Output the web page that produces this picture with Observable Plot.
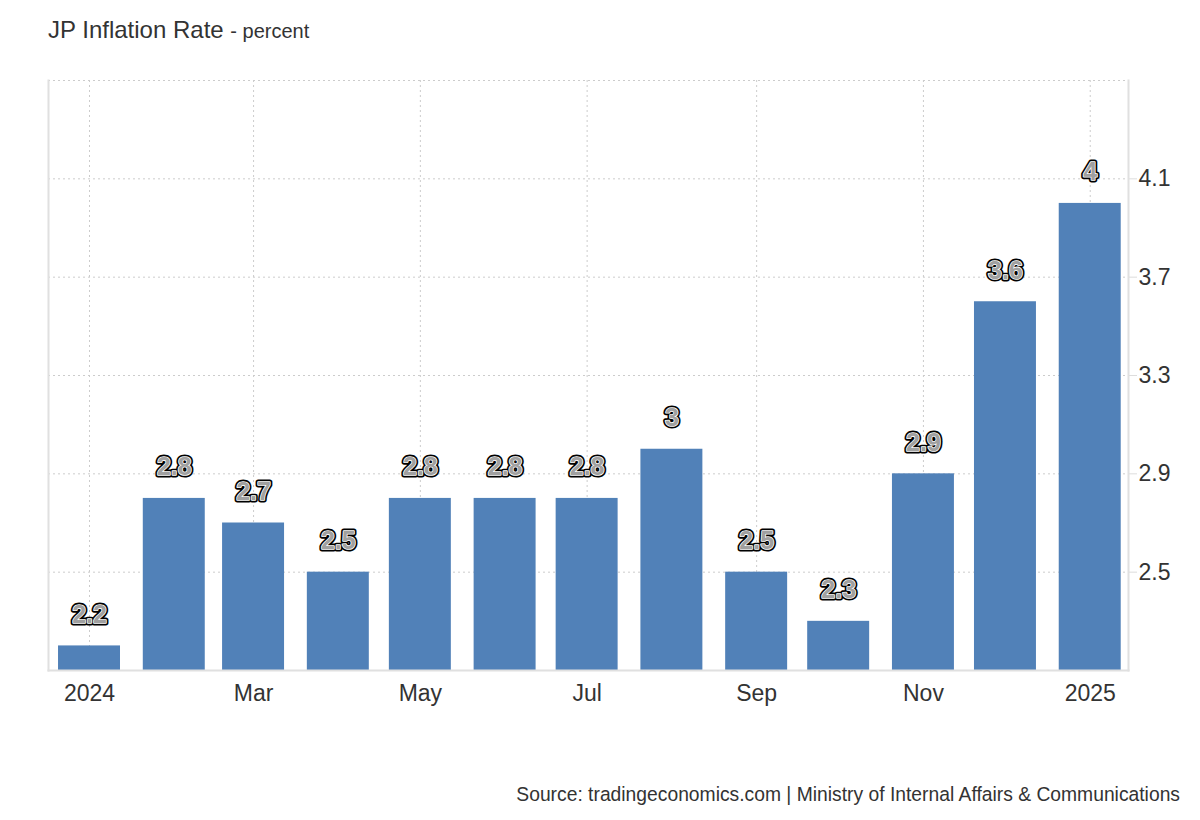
<!DOCTYPE html>
<html>
<head>
<meta charset="utf-8">
<script src="https://cdn.jsdelivr.net/npm/d3@7"></script>
<script src="https://cdn.jsdelivr.net/npm/@observablehq/plot@0.6"></script>
<style>
  html, body { margin: 0; padding: 0; background: #fff; }
  body { width: 1200px; height: 820px; position: relative; overflow: hidden; font-family: "Liberation Sans", Arial, sans-serif; }
  #title { position: absolute; left: 48px; top: 16px; color: #333; font-size: 24px; white-space: nowrap; z-index: 2; }
  #title span { font-size: 20px; }
  #chart { position: absolute; left: 0; top: 0; z-index: 1; }
  #source { position: absolute; right: 20px; top: 784px; color: #333; font-size: 19.3px; white-space: nowrap; z-index: 2; }
</style>
</head>
<body>
<div id="title">JP Inflation Rate <span>- percent</span></div>
<div id="chart"></div>
<div id="source">Source: tradingeconomics.com | Ministry of Internal Affairs &amp; Communications</div>
<script>
const months = ["2024-01","2024-02","2024-03","2024-04","2024-05","2024-06","2024-07","2024-08","2024-09","2024-10","2024-11","2024-12","2025-01"];
const values = [2.2, 2.8, 2.7, 2.5, 2.8, 2.8, 2.8, 3.0, 2.5, 2.3, 2.9, 3.6, 4.0];
const xTicks = ["2024-01","2024-03","2024-05","2024-07","2024-09","2024-11","2025-01"];
const yTicks = [2.5, 2.9, 3.3, 3.7, 4.1];
const yGrid = [2.5, 2.9, 3.3, 3.7, 4.1, 4.5];
const yDomain = [2.1, 4.5];
const xDomain = ["2023-12-17", "2025-01-15"];

const parse = d3.utcParse("%Y-%m");
const data = months.map((m, i) => ({date: parse(m), value: values[i]}));
const xTickDates = xTicks.map(parse);
const halfHours = 272;

const fmt = d => d.getUTCMonth() === 0 ? d3.utcFormat("%Y")(d) : d3.utcFormat("%b")(d);

const plot = Plot.plot({
  width: 1200,
  height: 720,
  marginLeft: 48,
  marginRight: 72,
  marginTop: 80,
  marginBottom: 50,
  style: {fontFamily: "'Liberation Sans', Arial, sans-serif", fontSize: "23px", color: "#333", background: "transparent"},
  x: {type: "utc", domain: xDomain.map(d3.utcParse("%Y-%m-%d")), label: null},
  y: {domain: yDomain, label: null},
  marks: [
    Plot.gridX(xTickDates, {x: d => d, stroke: "#ccc", strokeOpacity: 1, strokeDasharray: "2,3"}),
    Plot.gridY(yGrid, {y: d => d, stroke: "#ccc", strokeOpacity: 1, strokeDasharray: "2,3"}),
    Plot.rect(data, {
      x1: d => d3.utcHour.offset(d.date, -halfHours),
      x2: d => d3.utcHour.offset(d.date, halfHours),
      y1: () => yDomain[0],
      y2: "value",
      fill: "#5181b8"
    }),
    Plot.frame({anchor: "left", stroke: "#e0e0e0", strokeWidth: 2}),
    Plot.frame({anchor: "right", stroke: "#e0e0e0", strokeWidth: 2}),
    Plot.frame({anchor: "bottom", stroke: "#e0e0e0", strokeWidth: 2}),
    Plot.axisX(xTickDates, {tickFormat: fmt, tickSize: 0, tickPadding: 14, fontSize: 23, fill: "#333", label: null}),
    Plot.axisY(yTicks, {anchor: "right", tickSize: 8, tickPadding: 2, stroke: "#ddd", fontSize: 23, fill: "#333", tickFormat: d3.format(".1f"), label: null}),
    Plot.text(data, {x: "date", y: "value", text: d => String(d.value), dy: -31, fontSize: 25, fontWeight: "bold", fill: "#000", stroke: "#000", strokeWidth: 5, strokeLinejoin: "round"}),
    Plot.text(data, {x: "date", y: "value", text: d => String(d.value), dy: -31, fontSize: 25, fontWeight: "bold", fill: "#a0a0a0", stroke: "#fff", strokeWidth: 1.6, paintOrder: "stroke", strokeLinejoin: "round"})
  ]
});
document.getElementById("chart").append(plot);
</script>
</body>
</html>
